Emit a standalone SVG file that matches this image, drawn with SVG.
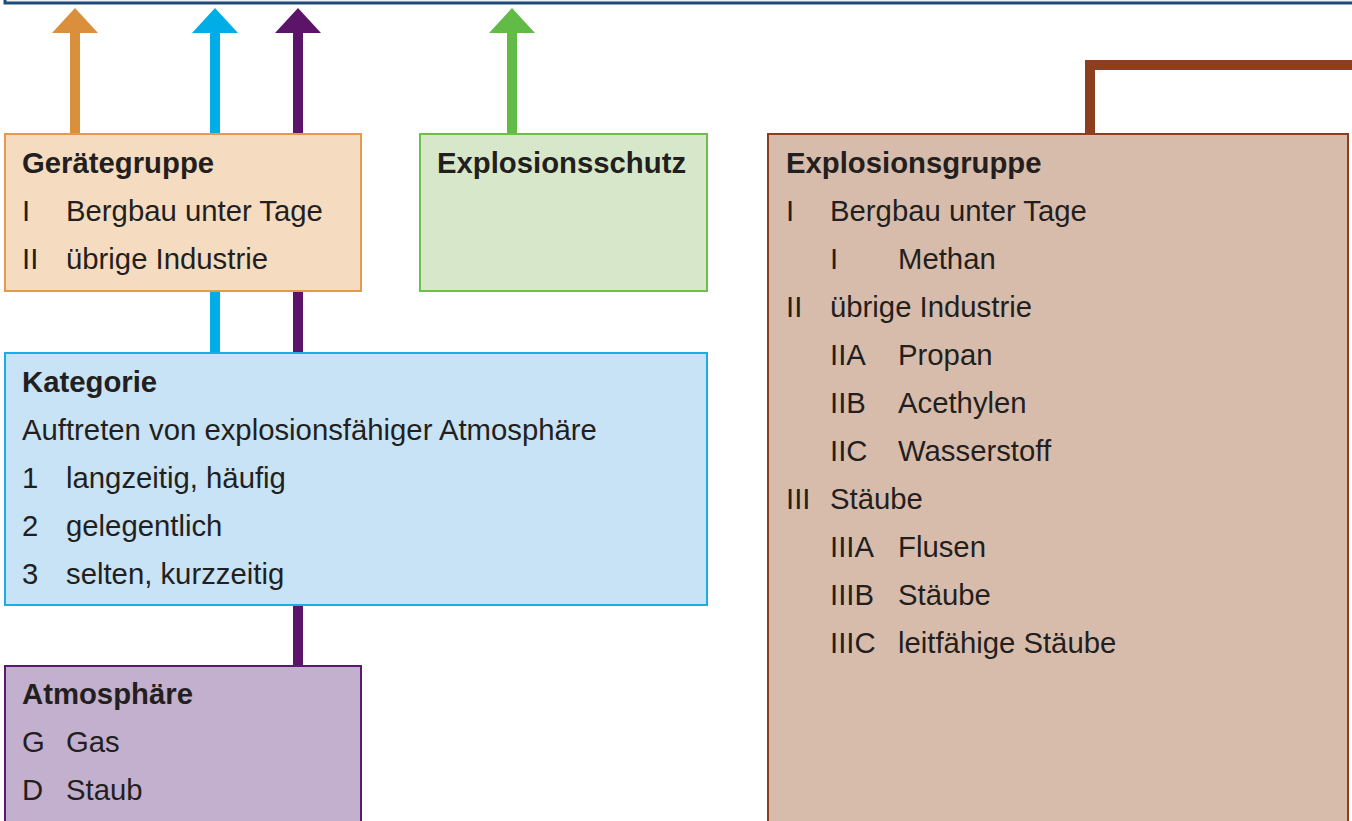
<svg xmlns="http://www.w3.org/2000/svg" width="1352" height="821" viewBox="0 0 1352 821">
<style>
text{font-family:"Liberation Sans",Arial,sans-serif;font-size:29.3px;fill:#231f20}
.t{font-weight:bold}
.box{stroke-width:2}
</style>
<rect x="0" y="0" width="1352" height="821" fill="#ffffff"/>
<rect x="5" y="-20" width="1360" height="23" fill="#eef0f3" stroke="#1d4a7a" stroke-width="3"/>
<g id="connectors">
  <rect x="70" y="30" width="10" height="105" fill="#d98f3b"/>
  <polygon points="52,33 98,33 75,8" fill="#d98f3b"/>
  <rect x="210" y="30" width="10" height="105" fill="#00ade6"/>
  <polygon points="192,33 238,33 215,8" fill="#00ade6"/>
  <rect x="293" y="30" width="10" height="105" fill="#5c1468"/>
  <polygon points="275,33 321,33 298,8" fill="#5c1468"/>
  <rect x="507" y="30" width="10" height="105" fill="#62bb47"/>
  <polygon points="489,33 535,33 512,8" fill="#62bb47"/>
  <rect x="210" y="290" width="10" height="64" fill="#00ade6"/>
  <rect x="293" y="290" width="10" height="64" fill="#5c1468"/>
  <rect x="293" y="604" width="10" height="63" fill="#5c1468"/>
  <path d="M1090,135 V65 H1352" fill="none" stroke="#8b3f1f" stroke-width="10"/>
</g>
<g id="geraetegruppe" transform="translate(0,1)">
  <rect class="box" x="5" y="133" width="356" height="157" fill="#f5dcc1" stroke="#e39a4f"/>
  <text class="t" x="22" y="172">Gerätegruppe</text>
  <text x="22" y="220">I</text><text x="66" y="220">Bergbau unter Tage</text>
  <text x="22" y="268">II</text><text x="66" y="268">übrige Industrie</text>
</g>
<g id="explosionsschutz" transform="translate(0,1)">
  <rect class="box" x="420" y="133" width="287" height="157" fill="#d7e8ca" stroke="#6cc04a"/>
  <text class="t" x="437" y="172">Explosionsschutz</text>
</g>
<g id="kategorie" transform="translate(0,1)">
  <rect class="box" x="5" y="352" width="702" height="252" fill="#c7e3f5" stroke="#1aaee6"/>
  <text class="t" x="22" y="391">Kategorie</text>
  <text x="22" y="439">Auftreten von explosionsfähiger Atmosphäre</text>
  <text x="22" y="487">1</text><text x="66" y="487">langzeitig, häufig</text>
  <text x="22" y="535">2</text><text x="66" y="535">gelegentlich</text>
  <text x="22" y="583">3</text><text x="66" y="583">selten, kurzzeitig</text>
</g>
<g id="atmosphaere" transform="translate(0,1)">
  <rect class="box" x="5" y="665" width="356" height="170" fill="#c3b0cf" stroke="#5c1a6e"/>
  <text class="t" x="22" y="703">Atmosphäre</text>
  <text x="22" y="751">G</text><text x="66" y="751">Gas</text>
  <text x="22" y="799">D</text><text x="66" y="799">Staub</text>
</g>
<g id="explosionsgruppe" transform="translate(0,1)">
  <rect class="box" x="768" y="133" width="580" height="702" fill="#d8bcab" stroke="#8b3f1f"/>
  <text class="t" x="786" y="172">Explosionsgruppe</text>
  <text x="786" y="220">I</text><text x="830" y="220">Bergbau unter Tage</text>
  <text x="830" y="268">I</text><text x="898" y="268">Methan</text>
  <text x="786" y="316">II</text><text x="830" y="316">übrige Industrie</text>
  <text x="830" y="364">IIA</text><text x="898" y="364">Propan</text>
  <text x="830" y="412">IIB</text><text x="898" y="412">Acethylen</text>
  <text x="830" y="460">IIC</text><text x="898" y="460">Wasserstoff</text>
  <text x="786" y="508">III</text><text x="830" y="508">Stäube</text>
  <text x="830" y="556">IIIA</text><text x="898" y="556">Flusen</text>
  <text x="830" y="604">IIIB</text><text x="898" y="604">Stäube</text>
  <text x="830" y="652">IIIC</text><text x="898" y="652">leitfähige Stäube</text>
</g>
</svg>
